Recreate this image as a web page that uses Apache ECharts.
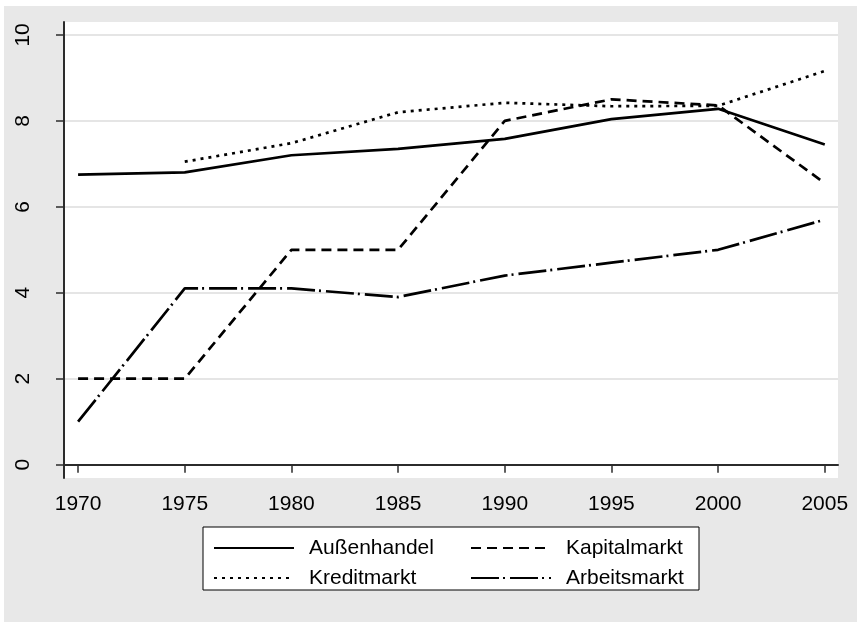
<!DOCTYPE html>
<html>
<head>
<meta charset="utf-8">
<script src="https://cdn.jsdelivr.net/npm/echarts@6/dist/echarts.min.js"></script>
<style>
  html, body { margin: 0; padding: 0; background: #fff; }
  #chart { position: absolute; left: 4px; top: 6px; width: 853px; height: 616px; }
</style>
</head>
<body>
<div id="chart"></div>
<script>
// Jahre und Indexwerte
const years = [1970, 1975, 1980, 1985, 1990, 1995, 2000, 2005]
const aussenhandel = [6.75, 6.8, 7.2, 7.35, 7.58, 8.04, 8.28, 7.45]
const kapitalmarkt = [2.0, 2.0, 5.0, 5.0, 8.0, 8.5, 8.36, 6.55]
const kreditmarkt = [null, 7.05, 7.48, 8.2, 8.42, 8.34, 8.35, 9.16]
const arbeitsmarkt = [1.0, 4.1, 4.1, 3.9, 4.4, 4.7, 5.0, 5.7]
const yTicks = [0, 2, 4, 6, 8, 10]

const font = 'Liberation Sans, Arial, sans-serif'
const pairs = (vals) => years.map((y, i) => [y, vals[i]])

const lineSeries = (name, vals, type) => ({
  name: name,
  type: 'line',
  symbol: 'none',
  smooth: false,
  connectNulls: false,
  lineStyle: { color: '#000', width: 2.7, type: type, cap: 'butt' },
  itemStyle: { color: '#000' },
  data: pairs(vals)
})

const leftCol = ['Außenhandel', 'Kreditmarkt']

const myChart = echarts.init(document.getElementById('chart'), null, { renderer: 'canvas' })
myChart.setOption({
  backgroundColor: '#e8e8e8',
  animation: false,
  textStyle: { fontFamily: font },
  grid: {
    show: true,
    left: 60,
    right: 19,
    top: 16,
    bottom: 144,
    backgroundColor: '#fff',
    borderWidth: 0
  },
  xAxis: {
    type: 'value',
    min: 1969.34,
    max: 2005.62,
    splitLine: { show: false },
    axisLine: { lineStyle: { color: '#2b2b2b', width: 2 } },
    axisTick: { customValues: years, length: 8, lineStyle: { color: '#2b2b2b', width: 1.5 } },
    axisLabel: {
      customValues: years,
      formatter: (v) => String(v),
      margin: 16,
      fontSize: 21,
      color: '#000',
      fontFamily: font
    }
  },
  yAxis: {
    type: 'value',
    min: -0.31,
    max: 10.3,
    axisLine: { show: true, lineStyle: { color: '#2b2b2b', width: 2 } },
    axisTick: { show: true, customValues: yTicks, length: 8, lineStyle: { color: '#2b2b2b', width: 1.5 } },
    axisLabel: { customValues: yTicks, rotate: 90, margin: 30, fontSize: 21, color: '#000', fontFamily: font },
    splitLine: { show: true, lineStyle: { color: '#dcdcdc', width: 1.5 } }
  },
  legend: {
    left: 199,
    top: 521,
    width: 490,
    orient: 'horizontal',
    padding: [9, 10, 0, 10],
    itemGap: 6,
    itemWidth: 80,
    itemHeight: 14,
    itemStyle: { opacity: 0 },
    backgroundColor: '#fff',
    borderColor: '#000',
    borderWidth: 1,
    borderRadius: 0,
    data: ['Außenhandel', 'Kapitalmarkt', 'Kreditmarkt', 'Arbeitsmarkt'],
    formatter: (name) => leftCol.includes(name) ? '{s| }{a|' + name + '}' : '{s| }{b|' + name + '}',
    textStyle: {
      fontSize: 21,
      fontFamily: font,
      color: '#000',
      lineHeight: 24,
      rich: {
        s: { width: 10 },
        a: { width: 155, fontSize: 21, fontFamily: font, lineHeight: 24 },
        b: { width: 123, fontSize: 21, fontFamily: font, lineHeight: 24 }
      }
    }
  },
  series: [
    lineSeries('Außenhandel', aussenhandel, 'solid'),
    lineSeries('Kapitalmarkt', kapitalmarkt, [10, 6]),
    lineSeries('Kreditmarkt', kreditmarkt, [3, 5]),
    lineSeries('Arbeitsmarkt', arbeitsmarkt, [28, 4, 2, 5])
  ]
})

window.addEventListener('resize', () => {
  myChart.resize()
}, false)
</script>
</body>
</html>
